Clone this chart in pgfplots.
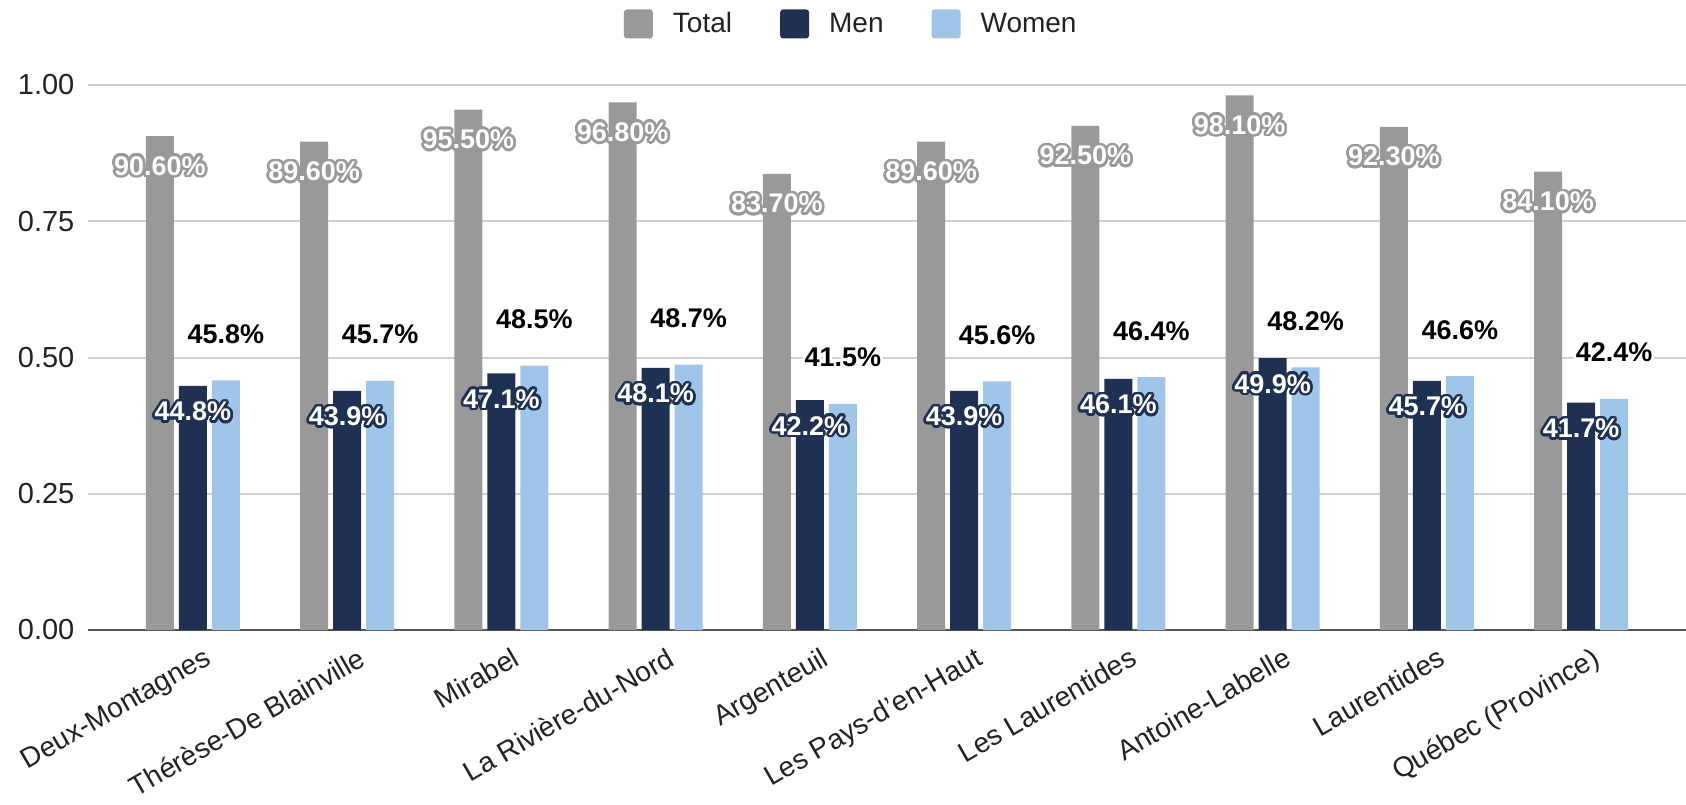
\documentclass[border=0pt]{standalone}
\usepackage{pgfplots}
\pgfplotsset{compat=1.18}
\usepackage{fontspec}
\setmainfont{Liberation Sans}
\usepackage{contour}
\contourlength{1.3pt}
\contournumber{24}
\definecolor{cTotal}{HTML}{999999}
\definecolor{cMen}{HTML}{1F3152}
\definecolor{cWomen}{HTML}{9FC5E8}
\definecolor{cGrid}{HTML}{D0D0D0}
\definecolor{cAxis}{HTML}{555555}
\definecolor{cText}{HTML}{222222}
\begin{document}
\begin{tikzpicture}
\begin{axis}[
  name=ax,
  scale only axis, width=799pt, height=272.5pt,
  ybar=2.5pt, bar width=14pt,
  xmin=-0.68, xmax=9.68, ymin=0, ymax=1,
  enlargelimits=false, clip=false,
  xtick={0,1,2,3,4,5,6,7,8,9},
  xticklabels={Deux-Montagnes,Thérèse-De Blainville,Mirabel,La Rivière-du-Nord,Argenteuil,Les Pays-d'en-Haut,Les Laurentides,Antoine-Labelle,Laurentides,Québec (Province)},
  ytick={0,0.25,0.5,0.75,1},
  yticklabel style={xshift=-3.3pt, font=\fontsize{14.5}{16}\selectfont, text=cText,
    /pgf/number format/fixed, /pgf/number format/fixed zerofill,
    /pgf/number format/precision=2, /pgf/number format/assume math mode=true},
  xticklabel style={rotate=30, anchor=north east, xshift=3.7pt, yshift=-6pt, font=\fontsize{14}{16}\selectfont, text=cText},
  axis x line*=bottom, axis y line*=left,
  y axis line style={draw=none},
  x axis line style={cAxis, line width=1pt},
  major tick length=0pt, tick style={draw=none},
  ymajorgrids, grid style={cGrid, line width=1pt},
  legend style={at={(0.477,1.112)}, anchor=center, draw=none, fill=none,
    legend columns=-1, font=\fontsize{14}{16}\selectfont, text=cText,
    nodes={inner sep=0pt},
    /tikz/every odd column/.append style={column sep=10pt},
    /tikz/every even column/.append style={column sep=24pt}},
  legend image code/.code={\fill[#1, rounded corners=1.5pt] (0pt,-7.25pt) rectangle (14.5pt,7.25pt);},
]
\addplot[fill=cTotal, draw=none, point meta=explicit symbolic,
  nodes near coords={\contour{cTotal}{\textcolor{white}{\pgfplotspointmeta\%}}},
  every node near coord/.append style={anchor=center, yshift=-15.5pt, inner sep=0pt, font=\bfseries\fontsize{13.5}{15}\selectfont}]
coordinates {(0,0.906)[90.60] (1,0.896)[89.60] (2,0.955)[95.50] (3,0.968)[96.80] (4,0.837)[83.70]
             (5,0.896)[89.60] (6,0.925)[92.50] (7,0.981)[98.10] (8,0.923)[92.30] (9,0.841)[84.10]};
\addplot[fill=cMen, draw=none, point meta=explicit symbolic,
  nodes near coords={\contour{cMen}{\textcolor{white}{\pgfplotspointmeta\%}}},
  every node near coord/.append style={anchor=center, yshift=-13.5pt, inner sep=0pt, font=\bfseries\fontsize{13.5}{15}\selectfont}]
coordinates {(0,0.448)[44.8] (1,0.439)[43.9] (2,0.471)[47.1] (3,0.481)[48.1] (4,0.422)[42.2]
             (5,0.439)[43.9] (6,0.461)[46.1] (7,0.499)[49.9] (8,0.457)[45.7] (9,0.417)[41.7]};
\addplot[fill=cWomen, draw=none, point meta=explicit symbolic,
  nodes near coords={\contour{white}{\textcolor{black}{\pgfplotspointmeta\%}}},
  every node near coord/.append style={anchor=center, yshift=22.5pt, inner sep=0pt, font=\bfseries\fontsize{13.5}{15}\selectfont}]
coordinates {(0,0.458)[45.8] (1,0.457)[45.7] (2,0.485)[48.5] (3,0.487)[48.7] (4,0.415)[41.5]
             (5,0.456)[45.6] (6,0.464)[46.4] (7,0.482)[48.2] (8,0.466)[46.6] (9,0.424)[42.4]};
\legend{Total,Men,Women}
\end{axis}
\pgfresetboundingbox
\path[use as bounding box] ([xshift=-44pt,yshift=-87.5pt]ax.south west) rectangle ([yshift=42.5pt]ax.north east);
\end{tikzpicture}
\end{document}
